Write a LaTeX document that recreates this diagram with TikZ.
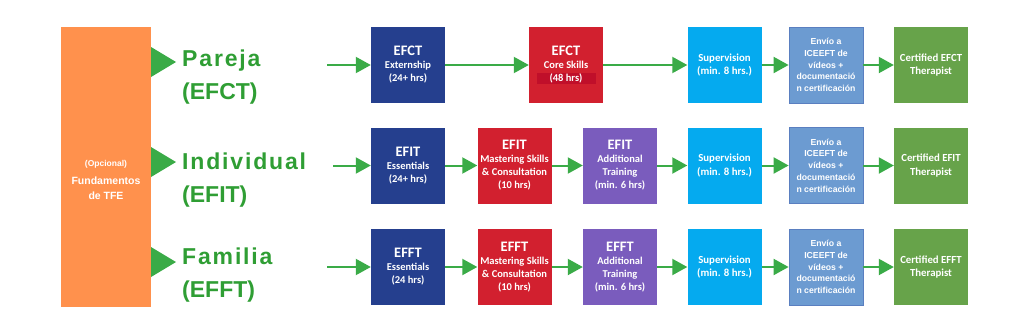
\documentclass[tikz,border=0pt]{standalone}
\usepackage{fontspec}
\setmainfont{Carlito}
\newfontfamily\arialfont{Liberation Sans}
\newfontfamily\spacedfont[LetterSpace=8]{Liberation Sans}
\usetikzlibrary{positioning, arrows.meta}

\definecolor{fundorange}{HTML}{FF914D}
\definecolor{flowgreen}{HTML}{3AAB47}
\definecolor{labelgreen}{HTML}{2F9E34}
\definecolor{darkblue}{HTML}{253F8E}
\definecolor{stagered}{HTML}{D2202F}
\definecolor{stripred}{HTML}{C00F2A}
\definecolor{stagepurple}{HTML}{7A5CBD}
\definecolor{supblue}{HTML}{05AAEF}
\definecolor{sendblue}{HTML}{6C9BD1}
\definecolor{sendedge}{HTML}{5A7FC0}
\definecolor{certgreen}{HTML}{67A34A}

\newcommand{\ttl}[1]{{\bfseries\fontsize{14.5}{17.5}\selectfont #1}}

\tikzset{
  stage/.style={minimum width=74pt, minimum height=76pt, inner sep=1pt, align=center, text=white,
    font=\bfseries\fontsize{10.5}{13}\selectfont},
  endstage/.style={stage, font=\bfseries\fontsize{10.8}{13.8}\selectfont},
  sendbox/.style={stage, fill=sendblue, draw=sendedge, line width=0.8pt,
    font=\arialfont\bfseries\fontsize{8.7}{11.7}\selectfont},
  flow/.style={draw=flowgreen, line width=2pt, -{Triangle[length=15pt,width=16pt]}},
  track/.style={anchor=west, align=left, text=labelgreen, inner sep=0pt,
    font=\arialfont\bfseries\fontsize{23}{33}\selectfont},
}

\begin{document}
\begin{tikzpicture}[x=1pt, y=-1pt]
  \useasboundingbox (0,0) rectangle (1024,332);

  % fundamentos
  \node[fill=fundorange, minimum width=90pt, minimum height=280pt] (Fund) at (106,167) {};
  \node[text=white, align=center, font=\arialfont\bfseries\fontsize{10.5}{15}\selectfont]
    (FundText) at ([yshift=-13pt]Fund.center)
    {{\fontsize{8.5}{15}\selectfont (Opcional)}\\[3pt] Fundamentos\\ de TFE};
  \foreach \y in {62,162,262}
    \fill[flowgreen] (151,\y-15) -- (176,\y) -- (151,\y+15) -- cycle;

  \node[track] (Pareja) at (182,77.5) {{\spacedfont Pareja}\\ (EFCT)};
  \node[track] (Individual) at (182,180.5) {{\spacedfont Individual}\\ (EFIT)};
  \node[track] (Familia) at (182,275) {{\spacedfont Familia}\\ (EFFT)};

  % EFCT row
  \coordinate (startCT) at (327,65);
  \node[stage, fill=darkblue] (Externship) at (408,65) {\ttl{EFCT}\\ Externship\\ (24+ hrs)};
  \node[stage, fill=stagered] (CoreSkills) at (566,65)
    {\ttl{EFCT}\\ Core Skills\\ {\setlength{\fboxsep}{1pt}\colorbox{stripred}{\makebox[57pt]{(48 hrs)}}}};
  \node[endstage, fill=supblue] (SupCT) at (724.5,65) {Supervision\\ (min. 8 hrs.)};
  \node[sendbox] (SendCT) at (826,65) {Envío a\\ ICEEFT de\\ vídeos +\\ documentació\\ n certificación};
  \node[endstage, fill=certgreen] (CertCT) at (931,65) {Certified EFCT\\ Therapist};

  % EFIT row
  \coordinate (startIT) at (333,165.5);
  \node[stage, fill=darkblue] (EssIT) at (408,165.5) {\ttl{EFIT}\\ Essentials\\ (24+ hrs)};
  \node[stage, fill=stagered] (MastIT) at (514.5,165.5) {\ttl{EFIT}\\ Mastering Skills\\ \& Consultation\\ (10 hrs)};
  \node[stage, fill=stagepurple] (AddIT) at (620,165.5) {\ttl{EFIT}\\ Additional\\ Training\\ (min. 6 hrs)};
  \node[endstage, fill=supblue] (SupIT) at (724.5,165.5) {Supervision\\ (min. 8 hrs.)};
  \node[sendbox] (SendIT) at (826,165.5) {Envío a\\ ICEEFT de\\ vídeos +\\ documentació\\ n certificación};
  \node[endstage, fill=certgreen] (CertIT) at (931,165.5) {Certified EFIT\\ Therapist};

  % EFFT row
  \coordinate (startFT) at (327,267);
  \node[stage, fill=darkblue] (EssFT) at (408,267) {\ttl{EFFT}\\ Essentials\\ (24 hrs)};
  \node[stage, fill=stagered] (MastFT) at (514.5,267) {\ttl{EFFT}\\ Mastering Skills\\ \& Consultation\\ (10 hrs)};
  \node[stage, fill=stagepurple] (AddFT) at (620,267) {\ttl{EFFT}\\ Additional\\ Training\\ (min. 6 hrs)};
  \node[endstage, fill=supblue] (SupFT) at (724.5,267) {Supervision\\ (min. 8 hrs.)};
  \node[sendbox] (SendFT) at (826,267) {Envío a\\ ICEEFT de\\ vídeos +\\ documentació\\ n certificación};
  \node[endstage, fill=certgreen] (CertFT) at (931,267) {Certified EFFT\\ Therapist};

  \draw[flow] (startCT) -- (Externship);
  \draw[flow] (Externship) -- (CoreSkills);
  \draw[flow] (CoreSkills) -- (SupCT);
  \draw[flow] (SupCT) -- (SendCT);
  \draw[flow] (SendCT) -- (CertCT);

  \draw[flow] (startIT) -- (EssIT);
  \draw[flow] (EssIT) -- (MastIT);
  \draw[flow] (MastIT) -- (AddIT);
  \draw[flow] (AddIT) -- (SupIT);
  \draw[flow] (SupIT) -- (SendIT);
  \draw[flow] (SendIT) -- (CertIT);

  \draw[flow] (startFT) -- (EssFT);
  \draw[flow] (EssFT) -- (MastFT);
  \draw[flow] (MastFT) -- (AddFT);
  \draw[flow] (AddFT) -- (SupFT);
  \draw[flow] (SupFT) -- (SendFT);
  \draw[flow] (SendFT) -- (CertFT);
\end{tikzpicture}
\end{document}
